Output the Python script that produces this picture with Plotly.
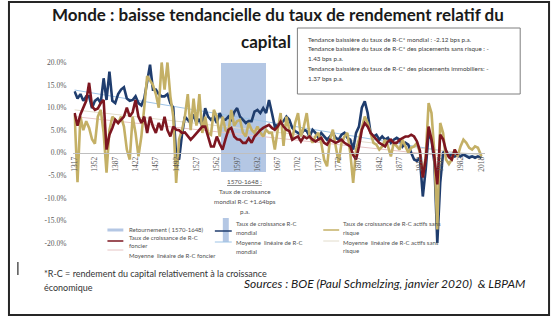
import plotly.graph_objects as go

W, H = 557, 323

# ---- data -------------------------------------------------------------
years = list(range(1317, 2013, 5)) + [2018]

# Taux de croissance R-C mondial (%)
mondial = [
    13.6, 12.0, 13.0, 11.5, 12.5, 12.5, 9.9,
    11.5, 12.0, 11.0, 16.5, 11.7, 18.0, 11.5,
    11.0, 13.0, 14.0, 14.5, 12.0, 11.5, 11.7,
    12.5, 11.0, 10.5, 12.0, 15.5, 19.5, 14.0,
    14.0, 13.0, 12.5, 12.5, 13.0, 11.0, 10.0,
    -0.8, -1.5, 4.0, 8.0, 7.3, 6.6, 8.5,
    6.6, 7.5, 5.8, 9.9, 8.0, 7.3, 8.0,
    6.6, 8.8, 7.3, 7.3, 8.0, 7.0, 9.0,
    9.9, 8.0, 7.3, 6.6, 7.0, 7.0, 9.1,
    9.5, 8.8, 9.9, 8.8, 11.7, 8.8, 5.8,
    6.2, 6.6, 7.0, 8.0, 7.3, 5.5, 4.8,
    4.4, 4.0, 5.1, 4.8, 3.6, 5.1, 4.4,
    3.3, 4.4, 3.6, 2.9, 3.6, 4.4, 3.3,
    2.9, 4.0, 4.4, 3.3, 2.9, 0.7, 4.4,
    5.8, 10.0, 11.4, 8.8, 4.4, 3.6, 4.0,
    2.9, 3.6, 2.9, 3.3, 2.2, 2.9, 3.3,
    2.9, 1.4, 2.2, 1.8, 0.0, -1.5, -1.8,
    -1.1, -9.7, -3.7, 4.4, 2.9, -2.2, -20.0,
    -6.7, 0.0, 0.4, -0.8, -0.4, -0.8, -0.4,
    -0.8, -0.4, -0.8, -1.1, -0.8, -1.1, -0.8,
    -1.1,
]

# Taux de croissance de R-C foncier (%)
foncier = [
    8.8, 6.0, 8.5, 10.0, 11.5, 15.5, 10.3,
    9.5, 9.8, 11.0, 11.7, 0.7, 4.0, 5.5,
    7.3, 6.6, 7.3, 8.0, 10.0, 8.0, 9.0,
    11.7, 8.0, 6.6, 8.0, 4.4, 8.0, 5.8,
    4.4, 6.6, 5.0, 8.0, 5.0, 3.6, 5.8,
    5.1, 5.0, 4.4, 4.5, 3.6, 2.9, 3.6,
    4.4, 5.1, 5.8, 5.8, 3.6, 1.4, 1.4,
    3.6, 2.0, 0.7, 3.0, 5.1, 5.5, 3.6,
    3.0, 2.9, 2.2, 2.2, 3.2, 2.2, 3.6,
    4.4, 5.0, 5.5, 5.8, 6.2, 5.5, 5.1,
    5.8, 6.9, 5.8, 5.1, 4.8, 2.9, 3.3,
    3.6, 2.5, 3.6, 3.2, 3.6, 2.9, 2.5,
    2.9, 3.3, 2.2, 1.8, 2.9, 2.5, 2.2,
    2.5, 2.9, 2.2, 1.8, 1.4, -0.5, -1.5,
    1.4, 5.1, 6.6, 5.8, 4.4, 3.6, 2.9,
    2.2, 1.8, 1.4, 2.5, 2.9, 2.2, 2.2,
    2.9, 3.3, 3.6, 3.6, 4.0, 3.6, 2.5,
    0.5, -5.5, -1.5, 5.8, 3.0, -1.0, -7.0,
    4.0, 3.0, 0.5, -1.0, -1.5, 0.7, -0.5,
    None, None, None, None, None, None, None,
    None,
]

# Taux de croissance de R-C actifs sans risque (%)
sans_risque = [
    8.5, -6.5, 8.0, 5.0, 7.0, 5.5, 3.0,
    2.0, 8.0, 9.5, 4.4, -4.4, 5.0, 8.0,
    7.3, 6.6, 8.0, 5.8, 0.7, -1.5, 8.0,
    4.4, -0.8, 3.6, 10.0, 17.0, 16.0, 15.0,
    13.0, 10.0, 20.0, 14.0, 20.0, 12.5, 8.0,
    -6.7, 3.0, 5.0, 8.0, 13.0, 5.0, 12.0,
    6.0, 13.0, 4.4, 8.0, 4.4, 4.0, 9.5,
    8.0, 3.6, 8.0, 5.0, 4.4, 9.5, 6.0,
    7.0, 7.3, 4.5, 3.6, 6.6, 5.1, 4.4,
    5.8, 4.5, 3.6, 5.1, 4.4, 4.4, 0.7,
    5.1, 8.8, 1.5, 8.0, 5.0, 2.9, 6.6,
    8.8, 3.6, 5.8, 8.8, 3.6, 2.2, 3.6,
    4.4, 2.2, -1.5, -3.0, 2.9, 5.1, 1.4,
    -2.2, 2.2, 3.6, 4.4, 0.0, -6.7, 0.7,
    2.9, 5.8, 8.0, 6.6, 4.4, 2.2, 1.8,
    0.7, 1.4, 2.9, 1.4, -0.8, 2.2, 1.4,
    0.7, 2.9, 1.4, 0.0, 1.1, 1.4, 2.2,
    0.0, -5.3, -0.8, 11.0, 8.8, 0.0, -17.0,
    6.6, 4.4, -1.5, -2.5, -1.5, 0.7, -0.8,
    1.4, 2.9, 2.2, 1.1, 0.7, 1.4, 1.1,
    -0.8,
]

# Moyennes linéaires (start / end of each trend)
trend_years = [1317, 2018]
trend_mondial = [13.9, -1.0]
trend_sans_risque = [9.5, -0.5]
trend_foncier_years = [1317, 1977]
trend_foncier = [8.0, -1.0]

# Retournement 1570-1648
retour_start, retour_end = 1570, 1648
retour_low, retour_high = -4.2, 20.0

tick_years = [1317, 1352, 1387, 1422, 1457, 1492, 1527, 1562, 1597, 1632, 1667,
              1702, 1737, 1772, 1807, 1842, 1877, 1912, 1947, 1982, 2018]
tick_labels = [str(y) for y in tick_years]
pct_ticks = [-20, -15, -10, -5, 0, 5, 10, 15, 20]
pct_labels = ["-20.0%", "-15.0%", "-10.0%", "-5.0%", "0.0%", "5.0%", "10.0%", "15.0%", "20.0%"]

# ---- colours ------------------------------------------------------------
C_BLUE = "#1f3d6e"
C_RED = "#7d1620"
C_KHAKI = "#c4b066"
C_BAND = "#b4c7e4"
C_T_BLUE = "#9dc3e6"
C_T_RED = "#e6c4c4"
C_T_KHAKI = "#e2dccb"
C_TEXT = "#505050"

FONT = "Lato"
SERIF = "Liberation Serif"


def px(x):
    return x / W


def py(y):
    return 1 - y / H


fig = go.Figure()

fig.add_trace(go.Bar(
    x=[(retour_start + retour_end) / 2], y=[retour_high - retour_low], base=[retour_low],
    width=[retour_end - retour_start], marker=dict(color=C_BAND, line=dict(width=0)),
    showlegend=False, hoverinfo="skip"))

for xs, ys, col in [(trend_years, trend_mondial, C_T_BLUE),
                    (trend_years, trend_sans_risque, C_T_KHAKI),
                    (trend_foncier_years, trend_foncier, C_T_RED)]:
    fig.add_trace(go.Scatter(x=xs, y=ys, mode="lines", line=dict(color=col, width=1),
                             showlegend=False, hoverinfo="skip"))

for ys, col in [(mondial, C_BLUE), (sans_risque, C_KHAKI), (foncier, C_RED)]:
    fig.add_trace(go.Scatter(x=years, y=ys, mode="lines",
                             line=dict(color=col, width=2.6, shape="linear"),
                             connectgaps=False, showlegend=False))

# axis geometry: 1317 -> 72px, 2018 -> 481px ; 20% -> 62.5px, -20% -> 243px
ppy = 409 / 701.0
x0, x1 = 1315, 2025
xd0 = (72 - (1317 - x0) * ppy) / W
xd1 = (72 + (x1 - 1317) * ppy) / W
ppct = (243 - 62.5) / 40.0
ymin, ymax = -21, 21
y_zero = 152.75
yd0 = 1 - (y_zero - ymin * ppct) / H
yd1 = 1 - (y_zero - ymax * ppct) / H

fig.update_layout(
    width=W, height=H, margin=dict(l=0, r=0, t=0, b=0),
    paper_bgcolor="white", plot_bgcolor="rgba(0,0,0,0)",
    showlegend=False, bargap=0,
    xaxis=dict(range=[x0, x1], domain=[xd0, xd1], anchor="free",
               position=1 - y_zero / H,
               tickmode="array", tickvals=tick_years, ticktext=tick_labels,
               tickangle=-90, tickfont=dict(family=SERIF, size=7.5, color="#595959"),
               showgrid=False, zeroline=False, showline=True, linecolor="#bfbfbf",
               linewidth=1, ticks=""),
    yaxis=dict(range=[ymin, ymax], domain=[yd0, yd1],
               tickmode="array", tickvals=pct_ticks, ticktext=pct_labels,
               tickfont=dict(family=SERIF, size=7.5, color="#595959"),
               showgrid=False, zeroline=False, showline=False, ticks="",
               ticklabelstandoff=6),
)

shapes = []
annotations = []


def text(x, y, s, size, color=C_TEXT, family=FONT, xanchor="left", **kw):
    annotations.append(dict(x=px(x), y=py(y), xref="paper", yref="paper", text=s,
                            showarrow=False, xanchor=xanchor, yanchor="middle",
                            font=dict(family=family, size=size, color=color), **kw))


def hline(x_a, x_b, y, color, width):
    shapes.append(dict(type="line", xref="paper", yref="paper", x0=px(x_a), x1=px(x_b),
                       y0=py(y), y1=py(y), line=dict(color=color, width=width)))


# outer frame
shapes.append(dict(type="rect", xref="paper", yref="paper", x0=px(6), x1=px(549),
                   y0=py(315), y1=py(2), line=dict(color="#262626", width=2)))

# title
text(276, 15, "<b>Monde : baisse tendancielle du taux de rendement relatif du</b>", 17,
     color="#1a1a1a", xanchor="center")
text(264, 42, "<b>capital</b>", 17, color="#1a1a1a", xanchor="center")

# info box
shapes.append(dict(type="rect", xref="paper", yref="paper", x0=px(296), x1=px(520),
                   y0=py(94), y1=py(28), line=dict(color="#7f7f7f", width=1),
                   fillcolor="white"))
box_lines = [
    (39, "Tendance baissière du taux de R-C* mondial : -2.12 bps p.a."),
    (49, "Tendance baissière du taux de R-C* des placements sans risque : -"),
    (58.5, "1.43 bps p.a."),
    (68, "Tendance baissière du taux de R-C* des placements immobiliers: -"),
    (78, "1.37 bps p.a."),
]
for yy, s in box_lines:
    text(305, yy, s, 6.3, color="#404040")

# band caption
text(243, 181, "<u>1570-1648 :</u>", 6.3, xanchor="center")
text(243, 191, "Taux de croissance", 6.3, xanchor="center")
text(243, 201, "mondial R-C +1.64bps", 6.3, xanchor="center")
text(243, 211, "p.a.", 6.3, xanchor="center")

# legend
hline(105, 121, 230, C_BAND, 3)
text(125, 229, "Retournement ( 1570-1648)", 6)
hline(105, 121, 241, C_RED, 1.5)
text(125, 237, "Taux de croissance de R-C", 6)
text(125, 245, "foncier", 6)
hline(105, 121, 250, C_T_RED, 1)
text(125, 255, "Moyenne  linéaire de R-C foncier", 6)

shapes.append(dict(type="rect", xref="paper", yref="paper", x0=px(221), x1=px(227),
                   y0=py(242), y1=py(218), line=dict(width=0), fillcolor=C_BAND))
hline(213, 230, 231, C_BLUE, 1.5)
text(232, 223, "Taux de croissance R-C", 6)
text(232, 232, "mondial", 6)
hline(213, 230, 242, C_T_BLUE, 1)
text(232, 242, "Moyenne  linéaire de R-C", 6)
text(232, 251, "mondial", 6)

hline(322, 338, 230, C_KHAKI, 1.5)
text(340, 223, "Taux de croissance de R-C actifs sans", 6)
text(340, 232, "risque", 6)
hline(322, 338, 241, C_T_KHAKI, 1)
text(340, 242, "Moyenne  linéaire de R-C actifs sans", 6)
text(340, 250, "risque", 6)

# footnotes
shapes.append(dict(type="line", xref="paper", yref="paper", x0=px(15), x1=px(15),
                   y0=py(275), y1=py(262), line=dict(color="#000000", width=1)))
text(39, 273, "*R-C = rendement du capital relativement à la croissance", 9,
     color="#333333")
text(39, 287, "économique", 9, color="#333333")
text(240, 283, "<i>Sources : BOE (Paul Schmelzing, janvier 2020)  & LBPAM</i>", 12,
     color="#1a1a1a")

fig.update_layout(shapes=shapes, annotations=annotations)
fig.write_html("out.html")
